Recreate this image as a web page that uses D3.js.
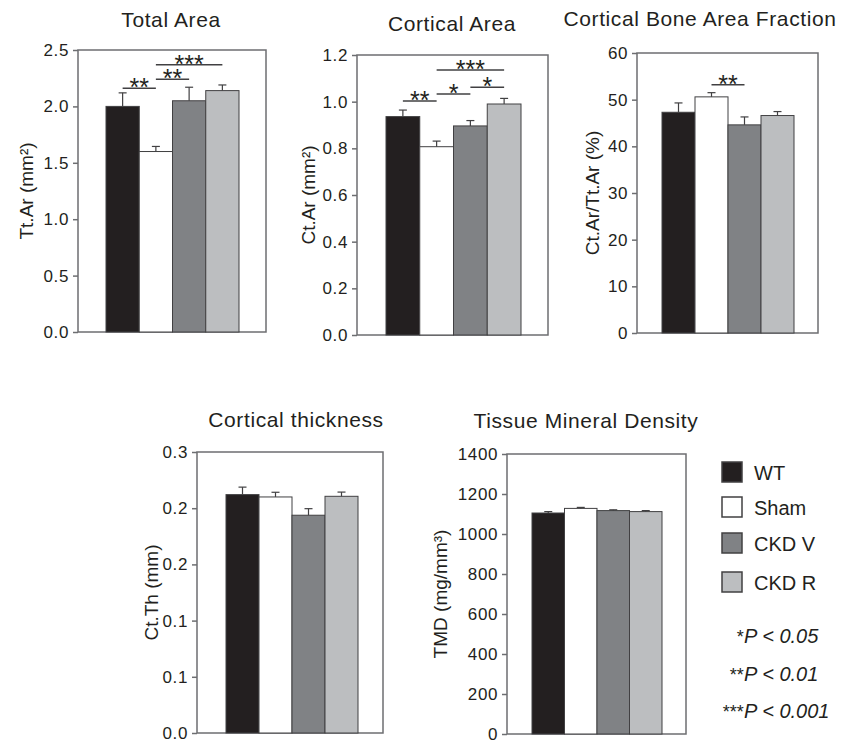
<!DOCTYPE html>
<html>
<head>
<meta charset="utf-8">
<script src="https://cdn.jsdelivr.net/npm/d3@7"></script>
<style>
body{margin:0;background:#fff}
svg{display:block}
text{font-family:"Liberation Sans",Arial,sans-serif;fill:#231f20}
</style>
</head>
<body>
<div id="chart"></div>
<script>
// groups + fills
const groups = ["WT","Sham","CKD V","CKD R"];
const colors = ["#231f20","#ffffff","#808285","#bcbec0"];

// means and (upper) SEM
const totalArea = [2.00,1.60,2.05,2.14];
const totalAreaErr = [0.12,0.045,0.12,0.05];
const corticalArea = [0.936,0.807,0.896,0.990];
const corticalAreaErr = [0.028,0.024,0.023,0.024];
const areaFraction = [47.3,50.6,44.6,46.6];
const areaFractionErr = [2.0,0.9,1.7,0.85];
const thickness = [0.2545,0.252,0.2325,0.2527];
const thicknessErr = [0.008,0.005,0.007,0.0045];
const tmd = [1105,1128,1117,1112];
const tmdErr = [7,5,4,5];

// ticks
const totalTicks = [0,0.5,1.0,1.5,2.0,2.5];
const corticalTicks = [0,0.2,0.4,0.6,0.8,1.0,1.2];
const fractionTicks = [0,10,20,30,40,50,60];
const thicknessTicks = [0,0.06,0.12,0.18,0.24,0.30];
const thicknessTickLabels = ["0.0","0.1","0.1","0.2","0.2","0.3"];
const tmdTicks = [0,200,400,600,800,1000,1200,1400];

// significance bars
const totalSig = [
  {a:"WT",b:"Sham",y:2.16,label:"**"},
  {a:"Sham",b:"CKD V",y:2.24,label:"**"},
  {a:"Sham",b:"CKD R",y:2.37,label:"***"}
];
const corticalSig = [
  {a:"WT",b:"Sham",y:1.003,label:"**"},
  {a:"Sham",b:"CKD V",y:1.033,label:"*"},
  {a:"CKD V",b:"CKD R",y:1.062,label:"*"},
  {a:"Sham",b:"CKD R",y:1.136,label:"***"}
];
const fractionSig = [
  {a:"Sham",b:"CKD V",y:53.2,label:"**"}
];

const legendLabels = ["WT","Sham","CKD V","CKD R"];
const pStars = ["*","**","***"];
const pTexts = ["P < 0.05","P < 0.01","P < 0.001"];

const width = 842, height = 743;
const frameColor = "#6d6e71";
const barStroke = "#414042";

const panels = [
  {title:"Total Area", ylab:"Tt.Ar (mm\u00b2)", vals:totalArea, errs:totalAreaErr,
   ticks:totalTicks, fmt:d3.format(".1f"), sig:totalSig,
   x:78, y:50, w:188, h:282, padL:28, padR:27, tx:171, ty:27, lab:45},
  {title:"Cortical Area", ylab:"Ct.Ar (mm\u00b2)", vals:corticalArea, errs:corticalAreaErr,
   ticks:corticalTicks, fmt:d3.format(".1f"), sig:corticalSig,
   x:357, y:55, w:191, h:280, padL:29, padR:27, tx:452, ty:31, lab:42},
  {title:"Cortical Bone Area Fraction", ylab:"Ct.Ar/Tt.Ar (%)", vals:areaFraction, errs:areaFractionErr,
   ticks:fractionTicks, fmt:d3.format("d"), sig:fractionSig,
   x:637, y:53, w:181, h:280, padL:25, padR:24, tx:700, ty:26, lab:38},
  {title:"Cortical thickness", ylab:"Ct.Th (mm)", vals:thickness, errs:thicknessErr,
   ticks:thicknessTicks, fmt:(d,i)=>thicknessTickLabels[i], sig:[],
   x:197, y:452, w:186, h:281, padL:29, padR:25, tx:296, ty:427, lab:39},
  {title:"Tissue Mineral Density", ylab:"TMD (mg/mm\u00b3)", vals:tmd, errs:tmdErr,
   ticks:tmdTicks, fmt:d3.format("d"), sig:[],
   x:507, y:454, w:179, h:280, padL:25, padR:24, tx:586, ty:428, lab:60}
];

const svg = d3.select('#chart')
  .append('svg')
  .attr('width',width)
  .attr('height',height);

panels.forEach(p => {
  const yscale = d3.scaleLinear()
    .domain([0, d3.max(p.ticks)])
    .range([p.y + p.h, p.y]);
  const xscale = d3.scaleBand()
    .domain(groups)
    .range([p.x + p.padL, p.x + p.w - p.padR])
    .padding(0);
  const g = svg.append('g');

  // frame
  g.append('rect')
    .attr('x',p.x).attr('y',p.y)
    .attr('width',p.w).attr('height',p.h)
    .attr('fill','none')
    .attr('stroke',frameColor)
    .attr('stroke-width',1.5);

  // y axis
  const left_axis = d3.axisLeft(yscale)
    .tickValues(p.ticks)
    .tickSize(5)
    .tickPadding(4)
    .tickFormat(p.fmt);
  const ax = g.append('g')
    .attr('transform',`translate(${p.x},0)`)
    .call(left_axis);
  ax.select('.domain').remove();
  ax.selectAll('line').attr('stroke',frameColor).attr('stroke-width',1.5);
  ax.selectAll('text')
    .style('font-size','17px')
    .style('letter-spacing','0.6px')
    .style('font-family','"Liberation Sans",Arial,sans-serif')
    .attr('fill','#231f20');

  // bars
  g.selectAll('rect.bar')
    .data(p.vals)
    .enter()
    .append('rect')
    .attr('class','bar')
    .attr('x',(d,i)=>xscale(groups[i]))
    .attr('y',d=>yscale(d))
    .attr('width',xscale.bandwidth())
    .attr('height',d=>yscale(0)-yscale(d))
    .attr('fill',(d,i)=>colors[i])
    .attr('stroke',barStroke)
    .attr('stroke-width',1);

  // error bars (upper only)
  const eb = g.selectAll('g.err')
    .data(p.vals)
    .enter()
    .append('g')
    .attr('class','err');
  eb.append('line')
    .attr('x1',(d,i)=>xscale(groups[i])+xscale.bandwidth()/2)
    .attr('x2',(d,i)=>xscale(groups[i])+xscale.bandwidth()/2)
    .attr('y1',d=>yscale(d))
    .attr('y2',(d,i)=>yscale(d+p.errs[i]))
    .attr('stroke',barStroke).attr('stroke-width',1.2);
  eb.append('line')
    .attr('x1',(d,i)=>xscale(groups[i])+xscale.bandwidth()/2-4)
    .attr('x2',(d,i)=>xscale(groups[i])+xscale.bandwidth()/2+4)
    .attr('y1',(d,i)=>yscale(d+p.errs[i]))
    .attr('y2',(d,i)=>yscale(d+p.errs[i]))
    .attr('stroke',barStroke).attr('stroke-width',1.2);

  // significance
  const cx = k => xscale(k) + xscale.bandwidth()/2;
  p.sig.forEach(s => {
    g.append('line')
      .attr('x1',cx(s.a)).attr('x2',cx(s.b))
      .attr('y1',yscale(s.y)).attr('y2',yscale(s.y))
      .attr('stroke','#414042').attr('stroke-width',1.5);
    g.append('text')
      .attr('x',(cx(s.a)+cx(s.b))/2)
      .attr('y',yscale(s.y)+8)
      .attr('text-anchor','middle')
      .style('font-size','25px')
      .text(s.label);
  });

  // title
  g.append('text')
    .attr('x',p.tx).attr('y',p.ty)
    .attr('text-anchor','middle')
    .style('font-size','21px')
    .style('letter-spacing','0.6px')
    .text(p.title);

  // y label
  g.append('text')
    .attr('transform',`translate(${p.x-p.lab},${p.y+p.h/2}) rotate(-90)`)
    .attr('text-anchor','middle')
    .style('font-size','19px')
    .text(p.ylab);
});

// legend
const legendY = [462,497,533,572];
const leg = svg.append('g');
leg.selectAll('rect')
  .data(legendLabels)
  .enter()
  .append('rect')
  .attr('x',722)
  .attr('y',(d,i)=>legendY[i])
  .attr('width',20).attr('height',20)
  .attr('fill',(d,i)=>colors[i])
  .attr('stroke',barStroke).attr('stroke-width',1.5);
leg.selectAll('text')
  .data(legendLabels)
  .enter()
  .append('text')
  .attr('x',754)
  .attr('y',(d,i)=>legendY[i]+18)
  .style('font-size','20px')
  .text(d=>d);

// p-value key
const pY = [643,681,718];
pTexts.forEach((t,i)=>{
  svg.append('text')
    .attr('x',743).attr('y',pY[i])
    .attr('text-anchor','end')
    .style('font-size','18px')
    .style('font-style','italic')
    .text(pStars[i]);
  svg.append('text')
    .attr('x',744).attr('y',pY[i])
    .style('font-size','20px')
    .style('font-style','italic')
    .text(t);
});
</script>
</body>
</html>
